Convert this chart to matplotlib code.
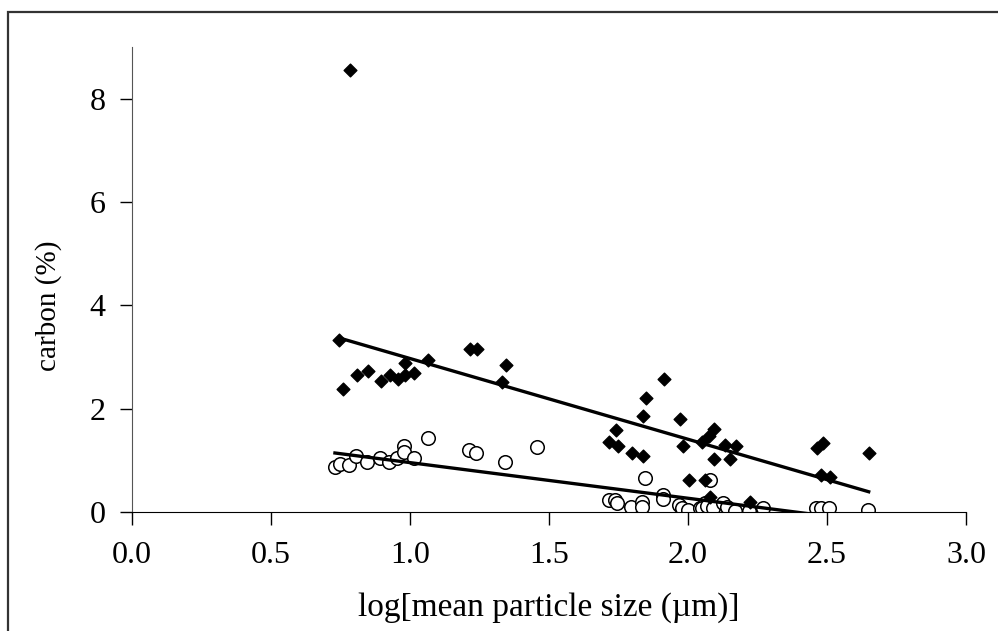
import matplotlib.pyplot as plt
from matplotlib.patches import Rectangle
import numpy as np

# whole-sample carbon (filled diamonds)
x_total = [0.784, 0.745, 0.760, 0.808, 0.849, 0.895, 0.928, 0.957, 0.981, 0.981,
           1.015, 1.066, 1.216, 1.240, 1.344, 1.332, 1.717, 1.740, 1.747, 1.799,
           1.838, 1.838, 1.850, 1.914, 1.970, 1.982, 2.005, 2.049, 2.062, 2.076,
           2.094, 2.093, 2.080, 2.132, 2.150, 2.172, 2.224, 2.464, 2.485, 2.477,
           2.511, 2.650]
c_total = [8.55, 3.32, 2.38, 2.66, 2.73, 2.54, 2.66, 2.58, 2.66, 2.88,
           2.69, 2.95, 3.16, 3.15, 2.85, 2.51, 1.36, 1.58, 1.27, 1.14,
           1.08, 1.85, 2.20, 2.57, 1.80, 1.27, 0.61, 1.35, 0.61, 1.48,
           1.61, 1.02, 0.29, 1.30, 1.02, 1.27, 0.19, 1.23, 1.33, 0.72,
           0.68, 1.14]

# organic fraction (open circles)
x_org = [0.730, 0.748, 0.782, 0.806, 0.845, 0.892, 0.926, 0.954, 0.978, 0.978,
         1.013, 1.064, 1.213, 1.237, 1.341, 1.456, 1.846, 1.716, 1.737, 1.743,
         1.795, 1.835, 1.835, 1.911, 1.911, 1.968, 1.977, 2.001, 2.043, 2.061,
         2.079, 2.050, 2.070, 2.090, 2.127, 2.139, 2.169, 2.219, 2.268, 2.460,
         2.477, 2.508, 2.646]
c_org = [0.88, 0.92, 0.91, 1.09, 0.97, 1.04, 0.97, 1.04, 1.28, 1.17,
         1.04, 1.44, 1.20, 1.14, 0.97, 1.25, 0.66, 0.23, 0.23, 0.17,
         0.10, 0.20, 0.10, 0.33, 0.25, 0.14, 0.07, 0.04, 0.07, 0.17,
         0.61, 0.08, 0.12, 0.08, 0.18, 0.10, 0.01, 0.02, 0.08, 0.07,
         0.07, 0.07, 0.04]

# linear trend lines (slope, intercept)
fit_total = (-1.563, 4.534)
fit_org = (-0.690, 1.646)

plt.rcParams['font.family'] = ['Liberation Serif', 'DejaVu Serif']

fig = plt.figure(figsize=(9.98, 6.31), dpi=100)
ax = fig.add_axes([132 / 998, 119 / 631, 834 / 998, 465 / 631])

# outer chart frame
fig.patches.append(Rectangle((8 / 998, -0.05), 1.1, 0.05 + 619 / 631,
                             transform=fig.transFigure, fill=False,
                             edgecolor='#333333', linewidth=1.6))

ax.scatter(x_total, c_total, marker='D', s=42, color='black', zorder=3)
ax.scatter(x_org, c_org, marker='o', s=95, facecolor='white',
           edgecolor='black', linewidth=1.1, zorder=2)

for xs, fit in ((x_total, fit_total), (x_org, fit_org)):
    xx = np.array([min(xs), max(xs)])
    ax.plot(xx, fit[0] * xx + fit[1], color='black', linewidth=2.4, zorder=4)

ax.set_xlim(0, 3)
ax.set_ylim(0, 9)
ax.set_xticks(np.arange(0, 3.01, 0.5))
ax.set_xticklabels([f"{v:.1f}" for v in np.arange(0, 3.01, 0.5)])
ax.set_yticks([0, 2, 4, 6, 8])

for side in ('top', 'right'):
    ax.spines[side].set_visible(False)
ax.spines['left'].set_color('#555555')
ax.spines['bottom'].set_color('black')
ax.tick_params(direction='out', length=9, width=1, labelsize=23)
ax.tick_params(axis='x', pad=12)
ax.tick_params(axis='y', pad=10)

ax.set_xlabel('log[mean particle size (\u00b5m)]', fontsize=24)
ax.set_ylabel('carbon (%)', fontsize=21)
ax.xaxis.set_label_coords(0.5, -0.172)
ax.yaxis.set_label_coords(-0.084, 0.443)

fig.savefig('out.png', dpi=100)
